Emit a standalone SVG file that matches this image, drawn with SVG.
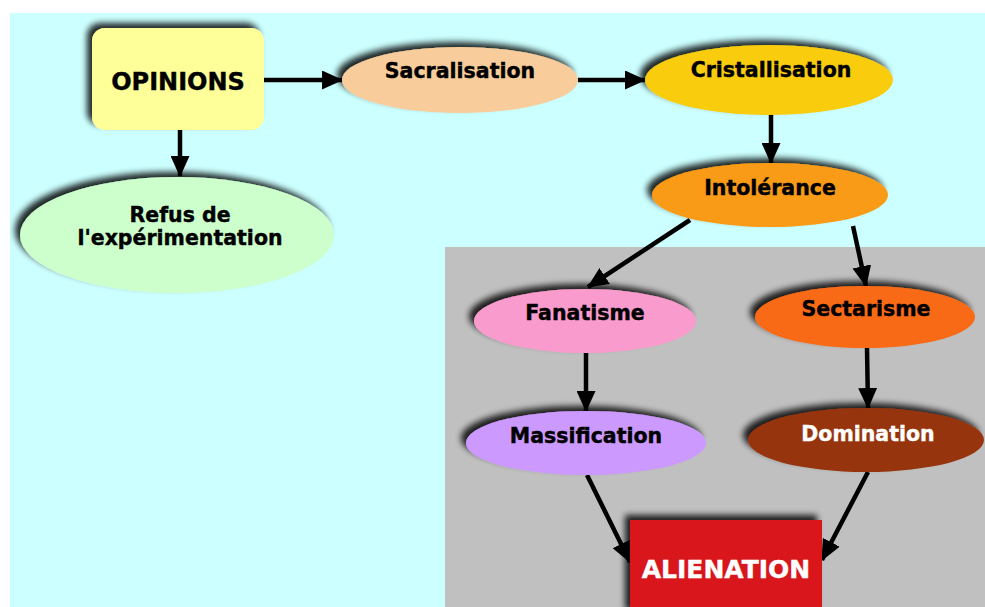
<svg xmlns="http://www.w3.org/2000/svg" width="985" height="607" viewBox="0 0 985 607">
  <style>
    .lbl { font-family: "DejaVu Sans", Verdana, sans-serif; font-weight: bold; font-size: 20.5px; text-anchor: middle; fill: #000; stroke: #000; stroke-width: 0.4; }
    .white { fill: #fff; stroke: #fff; }
    .edge { stroke: #000; stroke-width: 4.5; fill: none; marker-end: url(#head); }
    .shape { filter: url(#shade); }
  </style>
  <defs>
    <marker id="head" markerUnits="userSpaceOnUse" markerWidth="21" markerHeight="19" refX="20" refY="9.5" orient="auto" viewBox="0 0 21 19">
      <path d="M0,0 L21,9.5 L0,19 Z" fill="#000"/>
    </marker>
    <filter id="shade" x="-20%" y="-30%" width="140%" height="160%">
      <feGaussianBlur in="SourceAlpha" stdDeviation="3" result="b"/>
      <feOffset in="b" dx="-5" dy="-5" result="o"/>
      <feComponentTransfer in="o" result="s">
        <feFuncA type="linear" slope="0.85"/>
      </feComponentTransfer>
      <feMerge>
        <feMergeNode in="s"/>
        <feMergeNode in="SourceGraphic"/>
      </feMerge>
    </filter>
  </defs>

  <!-- backgrounds -->
  <rect x="0" y="0" width="985" height="607" fill="#fff"/>
  <rect x="10" y="13" width="975" height="594" fill="#ccffff"/>
  <rect x="445" y="247" width="540" height="360" fill="#c0c0c0"/>

  <g id="connectors">
    <line class="edge" x1="264" y1="80" x2="342" y2="80"/>
    <line class="edge" x1="180" y1="130" x2="180" y2="176"/>
    <line class="edge" x1="578" y1="80" x2="645" y2="80"/>
    <line class="edge" x1="771" y1="114" x2="771" y2="163"/>
    <line class="edge" x1="690" y1="220" x2="588" y2="287"/>
    <line class="edge" x1="853" y1="226" x2="866" y2="286"/>
    <line class="edge" x1="586" y1="352" x2="586" y2="411"/>
    <line class="edge" x1="867" y1="348" x2="868" y2="408"/>
    <line class="edge" x1="587" y1="475" x2="630" y2="562"/>
    <line class="edge" x1="868" y1="472" x2="822" y2="560"/>
  </g>

  <g id="opinions">
    <rect class="shape" x="92" y="28" width="172" height="102" rx="13" fill="#ffff99"/>
    <text class="lbl" x="178" y="90" style="font-size:24px">OPINIONS</text>
  </g>

  <g id="refus">
    <ellipse class="shape" cx="177" cy="235" rx="157" ry="58" fill="#ccffcc"/>
    <text class="lbl" x="180" y="222">Refus de</text>
    <text class="lbl" x="180" y="245">l'expérimentation</text>
  </g>

  <g id="sacralisation">
    <ellipse class="shape" cx="460" cy="80" rx="118" ry="33" fill="#f9cc9b"/>
    <text class="lbl" x="460" y="78">Sacralisation</text>
  </g>

  <g id="cristallisation">
    <ellipse class="shape" cx="769" cy="80" rx="124" ry="35" fill="#f9cc11"/>
    <text class="lbl" x="771" y="77">Cristallisation</text>
  </g>

  <g id="intolerance">
    <ellipse class="shape" cx="770" cy="195" rx="118" ry="32" fill="#f99b16"/>
    <text class="lbl" x="770" y="195">Intolérance</text>
  </g>

  <g id="fanatisme">
    <ellipse class="shape" cx="585" cy="321" rx="111" ry="32" fill="#f99bcc"/>
    <text class="lbl" x="585" y="320">Fanatisme</text>
  </g>

  <g id="sectarisme">
    <ellipse class="shape" cx="865" cy="317" rx="110" ry="31" fill="#f96b16"/>
    <text class="lbl" x="866" y="316">Sectarisme</text>
  </g>

  <g id="massification">
    <ellipse class="shape" cx="586" cy="443" rx="120" ry="32" fill="#cc99ff"/>
    <text class="lbl" x="586" y="443">Massification</text>
  </g>

  <g id="domination">
    <ellipse class="shape" cx="866" cy="440" rx="118" ry="32" fill="#96340c"/>
    <text class="lbl white" x="868" y="441">Domination</text>
  </g>

  <g id="alienation">
    <rect class="shape" x="630" y="520" width="192" height="95" fill="#d8161a"/>
    <text class="lbl white" x="726" y="578" style="font-size:25px">ALIENATION</text>
  </g>
</svg>
